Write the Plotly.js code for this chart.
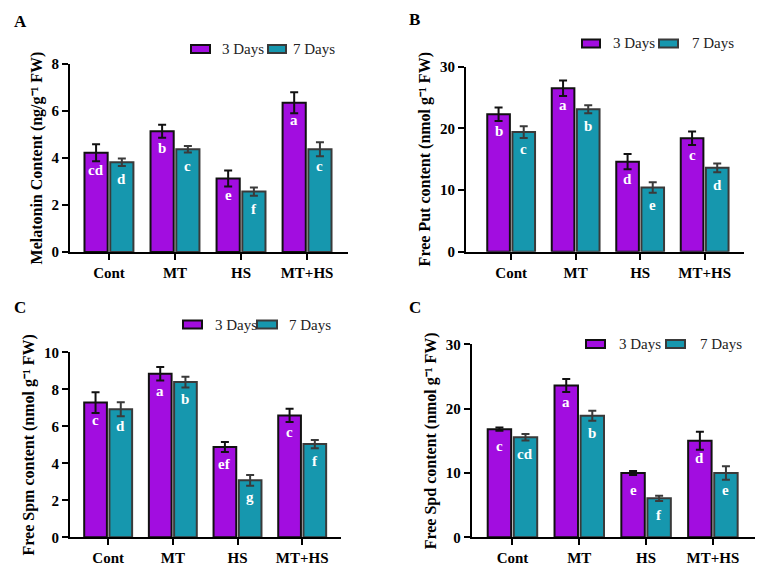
<!DOCTYPE html>
<html><head><meta charset="utf-8">
<script src="https://cdn.plot.ly/plotly-3.0.1.min.js"></script>
<style>html,body{margin:0;padding:0;background:#fff}</style>
</head><body><div id="chart" style="width:765px;height:580px"></div>
<script>
// ---- data ----
const categories = ['Cont', 'MT', 'HS', 'MT+HS'];
const seriesNames = ['3 Days', '7 Days'];
const panelLabels = ['A', 'B', 'C', 'C'];

const melatonin3 = [4.22, 5.14, 3.13, 6.35];
const melatonin3Err = [0.36, 0.28, 0.34, 0.45];
const melatonin3Letters = ['cd', 'b', 'e', 'a'];
const melatonin7 = [3.82, 4.37, 2.57, 4.37];
const melatonin7Err = [0.16, 0.14, 0.18, 0.30];
const melatonin7Letters = ['d', 'c', 'f', 'c'];

const put3 = [22.3, 26.5, 14.6, 18.4];
const put3Err = [1.1, 1.25, 1.25, 1.1];
const put3Letters = ['b', 'a', 'd', 'c'];
const put7 = [19.4, 23.1, 10.4, 13.6];
const put7Err = [0.95, 0.65, 0.85, 0.7];
const put7Letters = ['c', 'b', 'e', 'd'];

const spm3 = [7.28, 8.84, 4.88, 6.59];
const spm3Err = [0.56, 0.37, 0.27, 0.36];
const spm3Letters = ['c', 'a', 'ef', 'c'];
const spm7 = [6.92, 8.39, 3.08, 5.04];
const spm7Err = [0.38, 0.29, 0.29, 0.22];
const spm7Letters = ['d', 'b', 'g', 'f'];

const spd3 = [16.8, 23.6, 10.0, 15.0];
const spd3Err = [0.25, 1.0, 0.3, 1.4];
const spd3Letters = ['c', 'a', 'e', 'd'];
const spd7 = [15.55, 18.9, 6.06, 10.0];
const spd7Err = [0.5, 0.78, 0.4, 1.04];
const spd7Letters = ['cd', 'b', 'f', 'e'];

// ---- style / layout ----
const W = 765, H = 580;
const FONT = 'Liberation Serif';
const purple = '#A20DE0', teal = '#1697AE';
const outline3 = '#111111', outline7 = '#3a3a3a';
const BARGAP = 0.22;

// legend: [boxLeft, boxRight, textStart] per series, plus centre y (pixels)
const panels = [
  {title: 'Melatonin Content (ng/g\u207B\u00B9 FW)', s3: melatonin3, e3: melatonin3Err, l3: melatonin3Letters,
   s7: melatonin7, e7: melatonin7Err, l7: melatonin7Letters, yr: [0, 8], dt: 2,
   box: [70, 348, 64, 252], xr: [-0.59, 3.62], leg: [[191, 210, 220], [268, 286, 291]], legY: 49, lab: [20, 22]},
  {title: 'Free Put content (nmol g\u207B\u00B9 FW)', s3: put3, e3: put3Err, l3: put3Letters,
   s7: put7, e7: put7Err, l7: put7Letters, yr: [0, 30], dt: 10,
   box: [466, 744, 66.7, 251.7], xr: [-0.70, 3.61], leg: [[582, 600, 611], [659, 678, 690]], legY: 43.5, lab: [415, 20]},
  {title: 'Free Spm content (nmol g\u207B\u00B9 FW)', s3: spm3, e3: spm3Err, l3: spm3Letters,
   s7: spm7, e7: spm7Err, l7: spm7Letters, yr: [0, 10], dt: 2,
   box: [70, 341, 352.3, 537.3], xr: [-0.59, 3.6], leg: [[183, 202, 213], [257, 277, 287]], legY: 324.5, lab: [20, 307]},
  {title: 'Free Spd content (nmol g\u207B\u00B9 FW)', s3: spd3, e3: spd3Err, l3: spd3Letters,
   s7: spd7, e7: spd7Err, l7: spd7Letters, yr: [0, 30], dt: 10,
   box: [471.7, 755, 344.3, 537.3], xr: [-0.61, 3.63], leg: [[586, 605, 617], [666, 685, 698]], legY: 344, lab: [415, 307]}
];

const traces = [];
const annotations = [];
const shapes = [];
const layout = {
  width: W, height: H, margin: {l: 0, r: 0, t: 0, b: 0},
  paper_bgcolor: '#fff', plot_bgcolor: 'rgba(0,0,0,0)',
  barmode: 'group', bargap: BARGAP, bargroupgap: 0.1,
  font: {family: FONT, color: '#000'},
  showlegend: false,
  annotations: annotations, shapes: shapes
};

const off = (1 - BARGAP) / 4;
const letterFont = {family: FONT, size: 15, color: '#fff', weight: 'bold'};
const px = x => x / W, py = y => 1 - y / H;

panels.forEach((p, k) => {
  const n = k === 0 ? '' : String(k + 1);
  const xa = 'x' + n, ya = 'y' + n;
  const [x0, x1, y0, y1] = p.box;
  layout['xaxis' + n] = {
    domain: [px(x0), px(x1)], anchor: ya, type: 'category', range: p.xr,
    showline: true, linecolor: '#000', linewidth: 2, ticks: 'outside', ticklen: 6, tickwidth: 2,
    tickcolor: '#000', showgrid: false, zeroline: false, fixedrange: true,
    tickfont: {family: FONT, size: 15, color: '#000', weight: 'bold'}
  };
  layout['yaxis' + n] = {
    domain: [py(y1), py(y0)], anchor: xa, range: p.yr, dtick: p.dt, tick0: 0,
    showline: true, linecolor: '#000', linewidth: 2, ticks: 'outside', ticklen: 6, tickwidth: 2,
    tickcolor: '#000', showgrid: false, zeroline: false, fixedrange: true,
    tickfont: {family: FONT, size: 15, color: '#000', weight: 'bold'},
    title: {text: p.title, standoff: 5, font: {family: FONT, size: 16, color: '#000', weight: 'bold'}}
  };
  const series = [
    {name: seriesNames[0], y: p.s3, e: p.e3, l: p.l3, color: purple, line: outline3, dx: -off},
    {name: seriesNames[1], y: p.s7, e: p.e7, l: p.l7, color: teal, line: outline7, dx: off}
  ];
  series.forEach((s, j) => {
    traces.push({
      type: 'bar', name: s.name, x: categories, y: s.y, xaxis: xa, yaxis: ya,
      marker: {color: s.color, line: {color: s.line, width: 2}},
      error_y: {type: 'data', array: s.e, visible: true, color: s.line, thickness: 2, width: 4},
      hoverinfo: 'skip'
    });
    categories.forEach((c, i) => {
      annotations.push({xref: xa, yref: ya, x: i + s.dx, y: s.y[i], yshift: -17, text: s.l[i],
        showarrow: false, font: letterFont});
    });
    // legend key + label
    const [bl, br, ts] = p.leg[j];
    shapes.push({type: 'rect', xref: 'paper', yref: 'paper', x0: px(bl), x1: px(br),
      y0: py(p.legY + 4), y1: py(p.legY - 4), fillcolor: s.color, line: {color: s.line, width: 2}});
    annotations.push({xref: 'paper', yref: 'paper', x: px(ts), y: py(p.legY), xanchor: 'left', yanchor: 'middle',
      text: s.name, showarrow: false, font: {family: FONT, size: 15, color: '#222'}});
  });
  annotations.push({xref: 'paper', yref: 'paper', x: px(p.lab[0]), y: py(p.lab[1]),
    xanchor: 'center', yanchor: 'middle', text: panelLabels[k], showarrow: false,
    font: {family: FONT, size: 17, color: '#000', weight: 'bold'}});
});

Plotly.newPlot('chart', traces, layout, {staticPlot: true, displayModeBar: false});
</script></body></html>
